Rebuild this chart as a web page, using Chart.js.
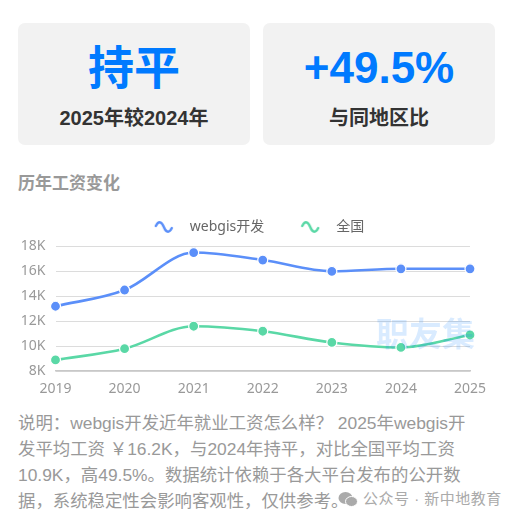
<!DOCTYPE html>
<html lang="zh"><head><meta charset="utf-8">
<script src="https://cdn.jsdelivr.net/npm/chart.js@4"></script>
<style>
html,body{margin:0;padding:0;background:#fff;width:517px;height:520px;overflow:hidden}
body{font-family:"Liberation Sans","Noto Sans CJK SC",sans-serif;position:relative}
.card{position:absolute;top:23px;height:122px;width:232px;background:#f2f2f2;border-radius:7px;text-align:center}
.big{position:absolute;left:0;right:0;top:15px;font-size:44px;line-height:60px;font-weight:700;color:#007aff}
.sub{position:absolute;left:0;right:0;top:80px;font-size:20px;line-height:30px;font-weight:700;color:#333}
.title{position:absolute;left:18px;top:172px;font-size:17px;line-height:24px;font-weight:700;color:#999}
#wrap{position:absolute;left:0;top:190px;width:517px;height:211px}
.wm{position:absolute;left:376px;top:315px;font-size:33px;line-height:40px;font-weight:700;color:rgba(0,122,255,.15);pointer-events:none}
.desc{position:absolute;left:18px;top:410px;width:452px;font-size:17.4px;line-height:26px;color:#999}
.gz{position:absolute;left:338px;top:489px;font-size:15px;letter-spacing:.5px;line-height:20px;color:#aaa;white-space:nowrap;display:flex;align-items:center;gap:5px}
</style></head><body>
<div class="card" style="left:18px"><div class="big" style="font-size:46px">持平</div><div class="sub">2025年较2024年</div></div>
<div class="card" style="left:263px"><div class="big">+49.5%</div><div class="sub">与同地区比</div></div>
<div class="title">历年工资变化</div>
<div id="wrap"><canvas id="c" width="517" height="211"></canvas></div>
<div class="wm">职友集</div>
<div class="desc">说明：webgis开发近年就业工资怎么样？ 2025年webgis开发平均工资 ￥16.2K，与2024年持平，对比全国平均工资10.9K，高49.5%。数据统计依赖于各大平台发布的公开数据，系统稳定性会影响客观性，仅供参考。</div>
<div class="gz"><svg width="20" height="17" viewBox="0 0 20 17"><ellipse cx="7.5" cy="7" rx="7" ry="6" fill="#aaa"/><ellipse cx="13.5" cy="10.5" rx="6" ry="5" fill="#aaa" stroke="#fff"/></svg><span>公众号 · 新中地教育</span></div>
<script>
const years = ['2019','2020','2021','2022','2023','2024','2025'];
const webgisValues = [13.2,14.5,17.5,16.9,16.0,16.2,16.2];
const nationalValues = [8.9,9.8,11.6,11.2,10.3,9.9,10.9];
const webgisName = 'webgis开发';
const nationalName = '全国';
const axisFont = '"Noto Sans","Noto Sans CJK SC",sans-serif';
function wave(color){
  const r = window.devicePixelRatio||1;
  const cv = document.createElement('canvas');
  cv.width = 20*r; cv.height = 14*r;
  cv.style.width='20px'; cv.style.height='14px';
  const g = cv.getContext('2d'); g.scale(r,r);
  g.strokeStyle = color; g.lineWidth = 2.4; g.lineCap='round';
  g.beginPath(); g.moveTo(2,6);
  g.bezierCurveTo(5,0,8,2,10,7);
  g.bezierCurveTo(12,12,15,14,18,8);
  g.stroke();
  return cv;
}
const blue='#5b8ff9', green='#5ad8a6';
const ds=(label,data,color)=>({label,data,borderColor:color,backgroundColor:color,borderWidth:2.6,cubicInterpolationMode:'monotone',
  pointRadius:5,pointHoverRadius:5,pointBackgroundColor:color,pointBorderColor:'#fff',pointBorderWidth:1.2,pointStyle:'circle',clip:false});
const legendGap={id:'legendGap',
 beforeLayout(ch){
  const lg=ch.legend;
  if(lg&&!lg._gapped){const f=lg.fit;lg.fit=function(){f.call(this);this.height+=2.3;};lg._gapped=true;}
 },
 afterLayout(ch){ ch.legend.left=39; }
};
new Chart(document.getElementById('c'),{type:'line',
 data:{labels:years,datasets:[ds(webgisName,webgisValues,blue),ds(nationalName,nationalValues,green)]},
 plugins:[legendGap],
 options:{responsive:false,animation:false,
  layout:{padding:{left:0,right:47,top:3,bottom:0}},
  plugins:{tooltip:{enabled:false},
   legend:{position:'top',labels:{usePointStyle:true,pointStyleWidth:38,font:{family:axisFont,size:14},color:'#666',padding:27,boxHeight:14,
     generateLabels(ch){return ch.data.datasets.map((d,i)=>({text:d.label,fontColor:'#666',pointStyle:wave(d.borderColor),datasetIndex:i,strokeStyle:d.borderColor,fillStyle:d.borderColor,lineWidth:0}));}
   }}},
  scales:{
   x:{offset:false,grid:{display:false,drawTicks:true,tickLength:5,tickColor:'#c8c8c8'},border:{color:'#c8c8c8',width:1.5},
      ticks:{color:'#999',font:{family:axisFont,size:14},padding:4,maxRotation:0,autoSkip:false}},
   y:{min:8,max:18,afterFit(s){s.width=55.5},grid:{color:'#dcdcdc',lineWidth:1,drawTicks:false},border:{display:false},
      ticks:{stepSize:2,color:'#999',padding:10,font:{family:axisFont,size:14},callback:v=>v+'K'}}
  }}
});
</script>
</body></html>
